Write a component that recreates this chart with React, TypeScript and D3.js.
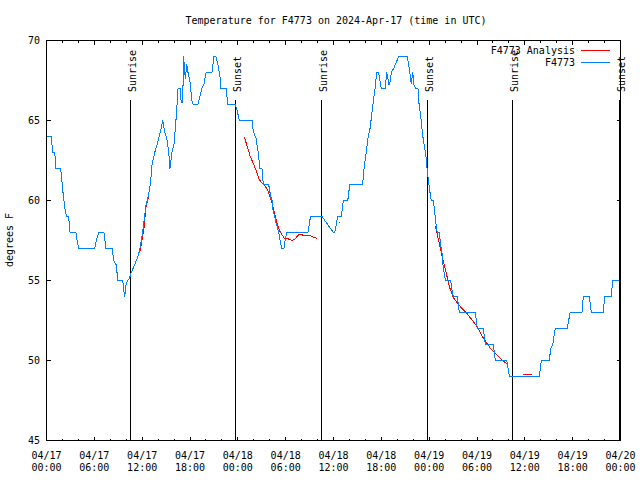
import React from "react";
import * as d3 from "d3";

// Observed temperature F4773 (hours since 04/17 00:00 UTC, degrees F)
const obsHours = [
  0.1, 0.6, 0.69, 0.78, 1.03, 1.19, 1.78, 1.94, 2.11, 2.36, 2.53, 2.78, 2.95, 3.7, 3.86, 4.04,
  6.05, 6.3, 6.55, 7.21, 7.46, 8.22, 8.47, 8.72, 8.97, 9.56, 9.72, 9.81, 9.97, 10.14, 10.39, 10.56,
  10.89, 11.31, 11.64, 11.94, 12.23, 12.48, 12.64, 12.9, 13.07, 13.23, 13.57, 13.82, 14.07, 14.33,
  14.58, 14.83, 15.08, 15.33, 15.49, 15.74, 15.99, 16.16, 16.33, 16.5, 16.75, 16.91, 17.08, 17.2,
  17.41, 17.59, 17.75, 18.0, 18.25, 18.41, 19.0, 19.25, 19.5, 19.76, 20.01, 20.76, 21.01, 21.26,
  21.51, 21.76, 21.85, 22.6, 22.68, 23.65, 23.93, 24.18, 25.78, 25.94, 26.28, 26.53, 26.78, 27.03,
  27.2, 27.87, 28.12, 28.29, 28.37, 28.62, 28.79, 29.13, 29.38, 29.54, 29.79, 29.96, 30.13, 32.8,
  33.05, 33.14, 34.56, 35.98, 36.15, 36.4, 36.48, 36.98, 37.23, 37.73, 37.91, 37.98, 39.66, 39.83,
  40.08, 40.33, 40.58, 40.83, 40.99, 41.17, 41.42, 41.67, 41.92, 42.0, 42.5, 42.67, 42.84, 42.93,
  43.09, 43.25, 43.59, 43.93, 44.18, 45.26, 45.43, 45.6, 45.76, 45.94, 46.1, 46.35, 46.6, 46.69,
  46.94, 47.1, 47.26, 47.44, 47.6, 47.77, 47.94, 48.02, 48.19, 48.27, 48.52, 48.69, 48.86, 49.02,
  49.27, 49.45, 49.61, 49.77, 50.03, 50.7, 50.86, 51.03, 51.53, 51.78, 53.79, 54.04, 54.79, 55.04,
  56.05, 56.3, 57.73, 57.8, 57.98, 58.05, 61.82, 62.07, 63.07, 63.25, 63.5, 63.82, 65.33, 65.67,
  67.17, 67.33, 68.09, 68.34, 69.84, 70.02, 70.85, 71.02, 71.85,
];
const obsTemps = [
  64, 64, 63.5, 63, 63, 62, 62, 61.2, 60.3, 59.3, 59, 59, 58, 58, 57.4, 57,
  57, 57.6, 58, 58, 57, 57, 56.2, 56, 55, 55, 54.3, 54, 54.7, 55, 55.1, 55.4,
  55.8, 56.3, 56.8, 57.6, 58.7, 59.7, 60, 60.6, 61.2, 62.2, 63, 63.4, 63.9, 64.4,
  65, 64.3, 63.9, 63, 62, 63, 63.5, 64.5, 65.6, 67, 67, 66.1, 66.1, 69,
  67.6, 68.5, 68, 67.4, 66.2, 66, 66, 66.5, 67, 67.3, 68, 68, 69, 69,
  68.5, 67.75, 67, 67, 66, 66, 65.6, 65, 65, 64.3, 63.9, 63.1, 62, 62,
  61, 61, 60.25, 60, 59.5, 59, 58.6, 58, 57.3, 57, 57, 57.6, 58, 58,
  58.8, 59, 59, 58, 58, 58.6, 59, 59, 60, 60, 60.25, 61, 61, 62,
  62.9, 63.9, 64.5, 65.5, 66.2, 66.8, 68, 68, 67.2, 67, 67, 68, 67.6, 67.2,
  67.4, 68, 68.3, 68.7, 69, 69, 68.5, 67.9, 67.3, 68, 67.2, 67, 67, 66.2,
  65.25, 64.5, 63.8, 63.3, 62.75, 61.8, 61.2, 60.75, 60.25, 60, 60, 59.3, 58.5, 58,
  58, 57.2, 56.7, 55.8, 55, 55, 54.4, 54, 54, 53, 53, 52, 52, 51,
  51, 50, 50, 49.8, 49.3, 49, 49, 50, 50, 50.75, 51, 52, 52, 53,
  53, 54, 54, 53, 53, 54, 54, 55, 55,
];

// F4773 Analysis (null separates segments)
const analysisHours = [
  11.69, 11.94, 12.23, 12.48, 12.64, 12.82, null,
  24.81, 25.53, 26.44, 26.69, 27.03, 27.4, 27.7, 28.04, 28.37, 28.66, 28.95, 29.29, 29.88, 30.33,
  30.76, 31.17, 31.71, 32.43, 33.05, 33.89, null,
  36.7, 36.8, null,
  48.77, 49.23, 49.77, 50.24, 50.61, 51.03, 51.66, 52.71, 53.54, 54.04, 54.79, 55.63, 56.89, 57.73, null,
  59.8, 60.86,
];
const analysisTemps = [
  56.77, 57.4, 58.3, 59.6, 59.94, 60.3, null,
  63.98, 62.8, 61.7, 61.3, 61.1, 60.9, 60.7, 60.25, 59.7, 59.1, 58.5, 58.06, 57.6, 57.6,
  57.5, 57.6, 57.9, 57.8, 57.8, 57.64, null,
  58.6, 58.6, null,
  58.42, 57.4, 56.2, 55.25, 54.5, 53.94, 53.5, 52.95, 52.44, 52.1, 51.4, 50.8, 50.14, 49.8, null,
  49.1, 49.1,
];

const sunriseHours = [10.53, 34.5, 58.47];
const sunsetHours = [23.7, 47.75, 71.82];

const yTicks = [45, 50, 55, 60, 65, 70];
const xTickHours = [0, 6, 12, 18, 24, 30, 36, 42, 48, 54, 60, 66, 72];
const xTickDates = ["04/17", "04/17", "04/17", "04/17", "04/18", "04/18", "04/18", "04/18", "04/19", "04/19", "04/19", "04/19", "04/20"];
const xTickTimes = ["00:00", "06:00", "12:00", "18:00", "00:00", "06:00", "12:00", "18:00", "00:00", "06:00", "12:00", "18:00", "00:00"];

const title = "Temperature for F4773 on 2024-Apr-17 (time in UTC)";
const yLabel = "degrees F";
const seriesNames = ["F4773 Analysis", "F4773"];
const seriesColors = ["#ff0000", "#0080ff"];

export default function App() {
  const L = 46.5, R = 620.5, T = 40.5, B = 440.5;
  const x = d3.scaleLinear().domain([0, 72]).range([L, R]);
  const y = d3.scaleLinear().domain([45, 70]).range([B, T]);
  const font = { fontFamily: "'DejaVu Sans Mono', monospace", fontSize: 10 };

  const obs = obsHours.map((h, i) => [h, obsTemps[i]] as [number, number]);
  const ana = analysisHours.map((h, i) => [h, analysisTemps[i]] as [number | null, number | null]);

  const line = d3.line<[number, number]>().x((d) => x(d[0])).y((d) => y(d[1]));
  const lineAna = d3
    .line<[number | null, number | null]>()
    .defined((d) => d[0] != null && d[1] != null)
    .x((d) => x(d[0] as number))
    .y((d) => y(d[1] as number));

  const minor = d3.range(0, 73, 2);
  const snap = (v: number) => Math.round(v - 0.5) + 0.5;

  const markers = [
    ...sunriseHours.map((h) => ({ h, label: "Sunrise" })),
    ...sunsetHours.map((h) => ({ h, label: "Sunset" })),
  ];

  return (
    <svg width={640} height={480} style={{ display: "block", position: "absolute", left: 0, top: 0, background: "#fff" }}>
      <rect x={0} y={0} width={640} height={480} fill="#fff" />
      <text x={336} y={24} textAnchor="middle" {...font} fill="#000">{title}</text>

      {/* ticks */}
      {minor.map((h) => {
        const len = h % 6 === 0 ? 4 : 2;
        const xx = snap(x(h));
        return (
          <g key={"xt" + h} stroke="#000" strokeWidth={1} shapeRendering="crispEdges">
            <line x1={xx} x2={xx} y1={B} y2={B - len} />
            <line x1={xx} x2={xx} y1={T} y2={T + len} />
          </g>
        );
      })}
      {yTicks.map((t) => {
        const yy = snap(y(t));
        return (
          <g key={"yt" + t}>
            <line x1={L} x2={L + 4} y1={yy} y2={yy} stroke="#000" shapeRendering="crispEdges" />
            <line x1={R} x2={R - 4} y1={yy} y2={yy} stroke="#000" shapeRendering="crispEdges" />
            <text x={40} y={yy} dy="0.35em" textAnchor="end" {...font} fill="#000">{t}</text>
          </g>
        );
      })}
      {xTickHours.map((h, i) => (
        <g key={"xl" + h}>
          <text x={x(h)} y={459} textAnchor="middle" {...font} fill="#000">{xTickDates[i]}</text>
          <text x={x(h)} y={471} textAnchor="middle" {...font} fill="#000">{xTickTimes[i]}</text>
        </g>
      ))}

      <text transform="translate(13,240) rotate(-90)" textAnchor="middle" {...font} fill="#000">{yLabel}</text>

      {/* sunrise / sunset */}
      {markers.map((m, i) => {
        const xx = snap(x(m.h));
        return (
          <g key={"m" + i}>
            <line x1={xx} x2={xx} y1={100} y2={B} stroke="#000" strokeWidth={1} shapeRendering="crispEdges" />
            <text transform={`translate(${xx + 5.5},92) rotate(-90)`} textAnchor="start" {...font} fill="#000">{m.label}</text>
          </g>
        );
      })}

      {/* series */}
      <path d={lineAna(ana) || ""} fill="none" stroke={seriesColors[0]} strokeWidth={1} shapeRendering="crispEdges" />
      <path d={line(obs) || ""} fill="none" stroke={seriesColors[1]} strokeWidth={1} shapeRendering="crispEdges" />

      {/* legend */}
      {seriesNames.map((n, i) => (
        <g key={"lg" + i}>
          <text x={575} y={54 + i * 12} textAnchor="end" {...font} fill="#000">{n}</text>
          <line x1={581} x2={610} y1={50.5 + i * 12} y2={50.5 + i * 12} stroke={seriesColors[i]} strokeWidth={1} shapeRendering="crispEdges" />
        </g>
      ))}

      <rect x={L} y={T} width={R - L} height={B - T} fill="none" stroke="#000" strokeWidth={1} shapeRendering="crispEdges" />
    </svg>
  );
}
